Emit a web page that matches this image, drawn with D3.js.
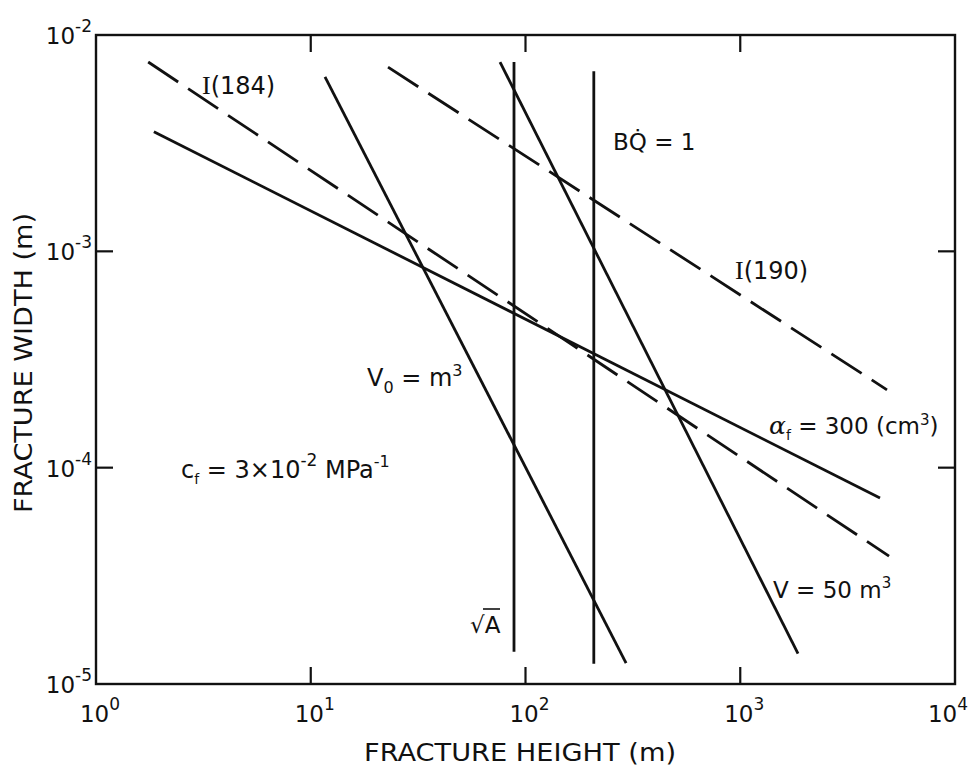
<!DOCTYPE html>
<html>
<head>
<meta charset="utf-8">
<script src="https://cdn.jsdelivr.net/npm/d3@7"></script>
<style>
  html, body { margin: 0; padding: 0; background: #fff; }
  svg { display: block; }
  text { font-family: "DejaVu Sans", sans-serif; fill: #111; }
</style>
</head>
<body>
<svg id="chart" width="971" height="769"></svg>
<script>
// ---- data (fracture height h [m], fracture width w [m]) ----
const heightTicks = [1, 10, 100, 1000, 10000];
const heightTickExp = ["0", "1", "2", "3", "4"];
const widthTicks = [1e-2, 1e-3, 1e-4, 1e-5];
const widthTickExp = ["-2", "-3", "-4", "-5"];

const lineI184 = [[1.75, 7.5e-3], [4930, 3.9e-5]];        // dashed
const lineAlpha = [[1.86, 3.57e-3], [4475, 7.24e-5]];      // solid, alpha_f = 300
const lineI190 = [[22.9, 7.1e-3], [4823, 2.29e-4]];        // dashed
const lineV0 = [[11.65, 6.4e-3], [294, 1.25e-5]];          // solid, V0 = m^3
const lineV50 = [[76.1, 7.5e-3], [1858, 1.38e-5]];         // solid, V = 50 m^3
const lineSqrtA = [[88.4, 7.5e-3], [88.4, 1.41e-5]];       // vertical, sqrt(A)
const lineBQ = [[208, 6.8e-3], [208, 1.24e-5]];            // vertical, BQ = 1

const series = [
  { pts: lineI184, dashed: true },
  { pts: lineAlpha, dashed: false },
  { pts: lineI190, dashed: true },
  { pts: lineV0, dashed: false },
  { pts: lineV50, dashed: false },
  { pts: lineSqrtA, dashed: false },
  { pts: lineBQ, dashed: false }
];

// ---- layout ----
const L = 96, R = 955, T = 35, B = 684;
const svg = d3.select("#chart");
const x = d3.scaleLog().domain([1, 10000]).range([L, R]);
const y = d3.scaleLog().domain([1e-5, 1e-2]).range([B, T]);

// frame
svg.append("rect").attr("x", L).attr("y", T).attr("width", R - L).attr("height", B - T)
  .attr("fill", "none").attr("stroke", "#111").attr("stroke-width", 2.4);

// inner ticks (major decades only)
const innerX = heightTicks.slice(1, -1);
const innerY = widthTicks.slice(1, -1);
const tickLen = 17;
innerX.forEach(v => {
  svg.append("line").attr("x1", x(v)).attr("x2", x(v)).attr("y1", B).attr("y2", B - tickLen)
    .attr("stroke", "#111").attr("stroke-width", 2.2);
  svg.append("line").attr("x1", x(v)).attr("x2", x(v)).attr("y1", T).attr("y2", T + tickLen)
    .attr("stroke", "#111").attr("stroke-width", 2.2);
});
innerY.forEach(v => {
  svg.append("line").attr("x1", L).attr("x2", L + tickLen).attr("y1", y(v)).attr("y2", y(v))
    .attr("stroke", "#111").attr("stroke-width", 2.2);
  svg.append("line").attr("x1", R).attr("x2", R - tickLen).attr("y1", y(v)).attr("y2", y(v))
    .attr("stroke", "#111").attr("stroke-width", 2.2);
});

// x tick labels
heightTicks.forEach((v, i) => {
  const last = i === heightTicks.length - 1;
  const t = svg.append("text").attr("x", last ? 968 : x(v) + 4).attr("y", 722)
    .attr("text-anchor", last ? "end" : "middle").attr("font-size", 23);
  t.append("tspan").text("10");
  t.append("tspan").attr("dy", -12).attr("font-size", 17).text(heightTickExp[i]);
});
// y tick labels
widthTicks.forEach((v, i) => {
  const t = svg.append("text").attr("x", 92).attr("y", y(v) + 9)
    .attr("text-anchor", "end").attr("font-size", 23);
  t.append("tspan").text("10");
  t.append("tspan").attr("dy", -12).attr("font-size", 17).text(widthTickExp[i]);
});

// axis titles
svg.append("text").attr("x", 520).attr("y", 761).attr("text-anchor", "middle")
  .attr("font-size", 24).attr("textLength", 312).attr("lengthAdjust", "spacingAndGlyphs")
  .text("FRACTURE HEIGHT (m)");
svg.append("text").attr("transform", "translate(32,363) rotate(-90)").attr("text-anchor", "middle")
  .attr("font-size", 24).attr("textLength", 300).attr("lengthAdjust", "spacingAndGlyphs")
  .text("FRACTURE WIDTH (m)");

// lines
const lineGen = d3.line().x(d => x(d[0])).y(d => y(d[1]));
series.forEach(s => {
  svg.append("path").datum(s.pts).attr("d", lineGen)
    .attr("fill", "none").attr("stroke", "#111").attr("stroke-width", 2.8)
    .attr("stroke-dasharray", s.dashed ? "36,12" : null);
});

// annotations
function romanLabel(px, py, num) {
  const t = svg.append("text").attr("x", px).attr("y", py).attr("font-size", 24);
  t.append("tspan").attr("font-family", "Liberation Serif, serif").attr("font-size", 26).text("I");
  t.append("tspan").text("(" + num + ")");
}
romanLabel(202, 94, "184");
romanLabel(735, 279, "190");

// BQ = 1
svg.append("text").attr("x", 613).attr("y", 150).attr("font-size", 23).text("BQ\u0307 = 1");

// alpha_f = 300 (cm3)
(function () {
  const t = svg.append("text").attr("x", 769).attr("y", 434).attr("font-size", 23);
  t.append("tspan").attr("font-family", "DejaVu Serif, serif").attr("font-style", "italic").attr("font-size", 25).text("\u03b1");
  t.append("tspan").attr("dy", 6).attr("font-size", 14).text("f");
  t.append("tspan").attr("dy", -6).text(" = 300 (cm");
  t.append("tspan").attr("dy", -9).attr("font-size", 15).text("3");
  t.append("tspan").attr("dy", 9).text(")");
})();

// V0 = m3
(function () {
  const t = svg.append("text").attr("x", 367).attr("y", 386).attr("font-size", 24);
  t.append("tspan").text("V");
  t.append("tspan").attr("dy", 7).attr("font-size", 16).text("0");
  t.append("tspan").attr("dy", -7).text(" = m");
  t.append("tspan").attr("dy", -10).attr("font-size", 16).text("3");
})();

// c_f = 3x10^-2 MPa^-1
(function () {
  const t = svg.append("text").attr("x", 181).attr("y", 478).attr("font-size", 24);
  t.append("tspan").text("c");
  t.append("tspan").attr("dy", 6).attr("font-size", 14).text("f");
  t.append("tspan").attr("dy", -6).text(" = 3\u00d710");
  t.append("tspan").attr("dy", -12).attr("font-size", 17).text("-2");
  t.append("tspan").attr("dy", 12).text(" MPa");
  t.append("tspan").attr("dy", -11).attr("font-size", 16).text("-1");
})();

// sqrt(A)
svg.append("text").attr("x", 470).attr("y", 633).attr("font-size", 23).text("\u221aA");
svg.append("line").attr("x1", 483).attr("x2", 500).attr("y1", 609).attr("y2", 609)
  .attr("stroke", "#111").attr("stroke-width", 1.6);

// V = 50 m3
(function () {
  const t = svg.append("text").attr("x", 773).attr("y", 598).attr("font-size", 23);
  t.append("tspan").text("V = 50 m");
  t.append("tspan").attr("dy", -10).attr("font-size", 15).text("3");
})();
</script>
</body>
</html>
